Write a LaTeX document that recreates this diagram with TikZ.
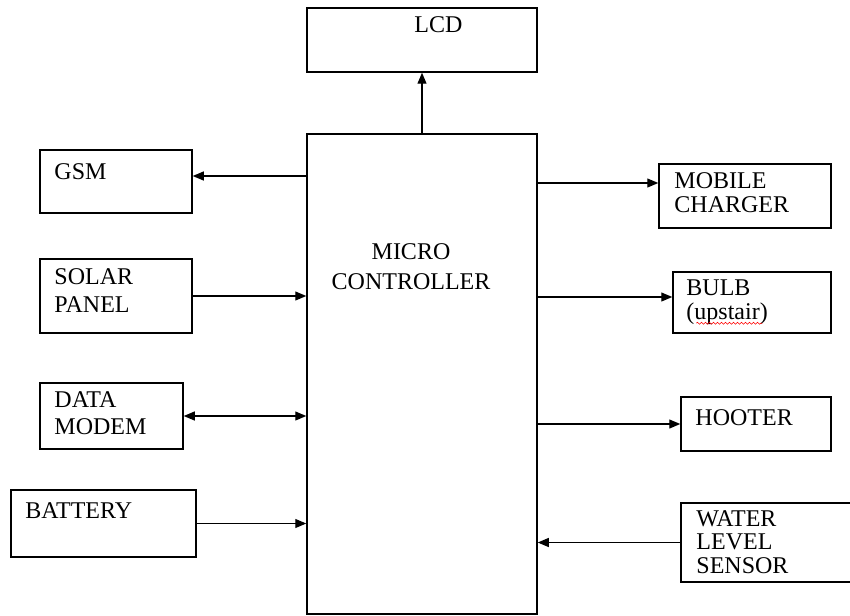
\documentclass[tikz,border=0pt]{standalone}
\usepackage{fontspec}
\setmainfont{Liberation Serif}
\usetikzlibrary{arrows.meta,decorations.pathmorphing}
\tikzstyle{unit} = [rectangle, draw=black, line width=1.5pt, inner sep=0pt]
\tikzstyle{txt} = [anchor=base west, align=left, inner sep=0pt, font=\fontsize{24}{24}\selectfont]
\tikzstyle{arrow} = [line width=1.2pt, -{Triangle[length=11pt,width=9pt]}]
\tikzstyle{twoway} = [line width=1.2pt, {Triangle[length=11pt,width=9pt]}-{Triangle[length=11pt,width=9pt]}]
\tikzstyle{squiggle} = [red, line width=0.6pt, decorate, decoration={snake, amplitude=1pt, segment length=4pt}]

\begin{document}
\begin{tikzpicture}[x=1pt, y=-1pt]
  \useasboundingbox (0,0) rectangle (850,615);
  % centre block
  \node (mc)[unit, minimum width=230pt, minimum height=480pt,
    label={[txt, anchor=base, align=center, xshift=-11pt, yshift=-156pt, font=\fontsize{24}{30}\selectfont]north:MICRO\\CONTROLLER}] at (422,374) {};
  \node (lcd)[unit, minimum width=230pt, minimum height=64pt,
    label={[txt, xshift=108pt, yshift=-25pt]north west:LCD}] at (422,40) {};
  % inputs and outputs on the left
  \node (gsm)[unit, minimum width=152pt, minimum height=63pt,
    label={[txt, xshift=15pt, yshift=-30pt]north west:GSM}] at (116,181.5) {};
  \node (solar)[unit, minimum width=152pt, minimum height=74pt,
    label={[txt, xshift=15pt, yshift=-54pt, font=\fontsize{24}{28}\selectfont]north west:SOLAR\\PANEL}] at (116,296) {};
  \node (modem)[unit, minimum width=143pt, minimum height=66pt,
    label={[txt, xshift=15pt, yshift=-52pt, font=\fontsize{24}{27}\selectfont]north west:DATA\\MODEM}] at (111.5,416) {};
  \node (battery)[unit, minimum width=185pt, minimum height=67pt,
    label={[txt, xshift=15pt, yshift=-29pt]north west:BATTERY}] at (103.5,523.5) {};
  % loads and sensor on the right
  \node (mobile)[unit, minimum width=172pt, minimum height=64pt,
    label={[txt, xshift=16pt, yshift=-49pt]north west:MOBILE\\CHARGER}] at (745,196) {};
  \node (bulb)[unit, minimum width=158pt, minimum height=61pt,
    label={[txt, xshift=14pt, yshift=-48pt]north west:BULB\\(upstair)}] at (752,302.5) {};
  \node (hooter)[unit, minimum width=150pt, minimum height=54pt,
    label={[txt, xshift=15pt, yshift=-29pt]north west:HOOTER}] at (756,424) {};
  \node (water)[unit, minimum width=179pt, minimum height=79pt,
    label={[txt, xshift=16pt, yshift=-71pt, font=\fontsize{24}{23.5}\selectfont]north west:WATER\\LEVEL\\SENSOR}] at (770.5,542.5) {};
  \coordinate (gsmin) at ([yshift=5.5pt]gsm.east);
  \coordinate (mobin) at ([yshift=13pt]mobile.west);
  \coordinate (bulbin) at ([yshift=5.5pt]bulb.west);
  % connectors
  \draw [arrow](mc.north)--(lcd.south);
  \draw [arrow](mc.west |- gsmin)--(gsmin);
  \draw [arrow](solar.east)--(mc.west |- solar.east);
  \draw [twoway](modem.east)--(mc.west |- modem.east);
  \draw [arrow](battery.east)--(mc.west |- battery.east);
  \draw [arrow](mc.east |- mobin)--(mobin);
  \draw [arrow](mc.east |- bulbin)--(bulbin);
  \draw [arrow](mc.east |- hooter.west)--(hooter.west);
  \draw [arrow](water.west)--(mc.east |- water.west);
  % spell-check mark under the word
  \draw [squiggle]([xshift=24pt,yshift=-52pt]bulb.north west)--++(66,0);
\end{tikzpicture}
\end{document}
